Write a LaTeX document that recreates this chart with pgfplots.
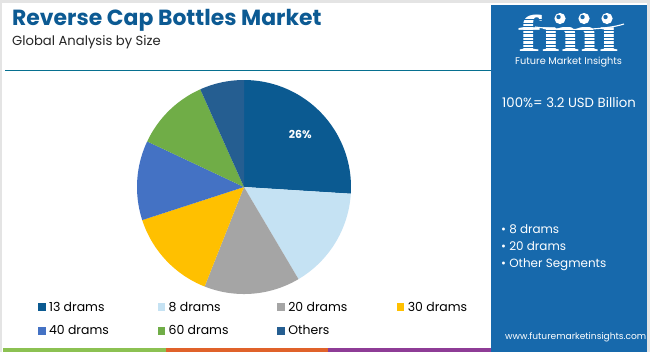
\documentclass[border=0pt]{standalone}
\usepackage{pgfplots}
\pgfplotsset{compat=1.18}
\usepackage{fontspec}
\setmainfont{Poppins}
\newfontfamily\logofont{Liberation Serif}
\definecolor{cA}{HTML}{0B5A91}
\definecolor{cB}{HTML}{C5E2F3}
\definecolor{cC}{HTML}{A5A5A5}
\definecolor{cD}{HTML}{FFC000}
\definecolor{cE}{HTML}{4472C4}
\definecolor{cF}{HTML}{70AD47}
\definecolor{cG}{HTML}{255E91}
\definecolor{titleblue}{HTML}{0C5A93}
\definecolor{panel}{HTML}{1769AC}
\definecolor{framegray}{HTML}{E4E4E4}
\definecolor{stripG}{HTML}{8CC152}
\definecolor{stripO}{HTML}{E0622A}
\definecolor{stripP}{HTML}{8E3C96}
% shares in percent (clockwise from 12 o'clock)
\def\pA{26}\def\pB{15.5}\def\pC{14.5}\def\pD{14}\def\pE{12}\def\pF{11.3}\def\pG{6.7}
\pgfmathsetmacro\aZ{90}
\pgfmathsetmacro\aA{\aZ-3.6*\pA}
\pgfmathsetmacro\aB{\aA-3.6*\pB}
\pgfmathsetmacro\aC{\aB-3.6*\pC}
\pgfmathsetmacro\aD{\aC-3.6*\pD}
\pgfmathsetmacro\aE{\aD-3.6*\pE}
\pgfmathsetmacro\aF{\aE-3.6*\pF}
\pgfmathsetmacro\aG{\aF-3.6*\pG}
\newcommand\slice[4]{%
  \addplot[fill=#1,draw=none,domain=#3:#2,samples=60] ({cos(x)},{sin(x)}) -- (axis cs:0,0) -- cycle;
  \addlegendentry{\makebox[105bp][l]{#4}}}
\begin{document}
\begin{tikzpicture}
\begin{scope}[x=1bp,y=-1bp]
\path[use as bounding box] (0,0) rectangle (650,352);
\fill[white] (0,0) rectangle (650,352);
\fill[framegray] (0,0) rectangle (650,3);
\fill[framegray] (0,0) rectangle (2,352);
\fill[framegray] (647,0) rectangle (650,352);
\fill[panel] (491,5) rectangle (647,352);
% strips
\fill[stripG] (3,348) rectangle (166,352);
\fill[stripO] (166,348) rectangle (328,352);
\fill[stripP] (328,348) rectangle (491,352);
% title
\node[anchor=base west,inner sep=0pt,text=titleblue,font=\fontsize{22}{25}\selectfont\bfseries] at (12,25) {Reverse Cap Bottles Market};
\node[anchor=base west,inner sep=0pt,text=black!85,font=\fontsize{13.2}{16}\selectfont] at (12,45) {Global Analysis by Size};
\draw[color=titleblue!70!cyan!80!black,line width=1.6bp] (5,70.5) -- (491,70.5);
% logo
\node[anchor=base west,inner sep=0pt,text depth=0pt,text=white,font=\logofont\bfseries\fontsize{52}{52}\selectfont] at (518,51) {\scalebox{1.34}[1]{fmı}};
\foreach \yy in {19.5,23,26.5,30,33.5,37,40.5,44,47.5} {\draw[panel,line width=0.9bp] (512,\yy) -- (625,\yy);}
\foreach \cx in {560,584,607} {\fill[white] (\cx,18.5) circle (5.6); \fill[panel] (\cx-1.5,17) circle (2.2);}
\draw[white,line width=1.1bp] (535,27) .. controls (570,31) and (605,30) .. (624,24);
\node[anchor=base west,inner sep=0pt,text height=7bp,text=white,font=\fontsize{9.8}{11}\selectfont] at (515,64) {Future Market Insights};
\node[anchor=base west,inner sep=0pt,text=white,font=\fontsize{13.3}{16}\selectfont] at (502,107) {100\%= 3.2 USD Billion};
\node[anchor=base west,inner sep=0pt,text=white,font=\fontsize{12}{15}\selectfont] at (501,233) {• 8 drams};
\node[anchor=base west,inner sep=0pt,text=white,font=\fontsize{12}{15}\selectfont] at (501,250) {• 20 drams};
\node[anchor=base west,inner sep=0pt,text=white,font=\fontsize{12}{15}\selectfont] at (501,267) {• Other Segments};
\node[anchor=base west,inner sep=0pt,text=white,font=\fontsize{9.1}{11}\selectfont] at (505,339.5) {www.futuremarketinsights.com};
\end{scope}
\begin{axis}[at={(244bp,-187bp)},anchor=center,hide axis,scale only axis,
  width=214bp,height=214bp,xmin=-1,xmax=1,ymin=-1,ymax=1,clip=false,
  legend columns=4,
  legend image code/.code={\fill[#1] (0bp,-3.8bp) rectangle (7.6bp,3.8bp);},
  legend style={draw=none,fill=none,inner sep=0pt,outer sep=0pt,
    at={(axis description cs:-0.4626,-0.03)},anchor=north west,
    font=\fontsize{12.5}{15}\selectfont,row sep=10bp,
    nodes={inner xsep=3.5bp,inner ysep=1.5bp}},
  legend cell align=left]
\slice{cA}{\aZ}{\aA}{13 drams}
\slice{cB}{\aA}{\aB}{8 drams}
\slice{cC}{\aB}{\aC}{20 drams}
\slice{cD}{\aC}{\aD}{30 drams}
\slice{cE}{\aD}{\aE}{40 drams}
\slice{cF}{\aE}{\aF}{60 drams}
\slice{cG}{\aF}{\aG}{Others}
\node[text=white,font=\fontsize{11}{13}\selectfont\bfseries] at (axis cs:0.525,0.49) {26\%};
\end{axis}
\end{tikzpicture}
\end{document}
